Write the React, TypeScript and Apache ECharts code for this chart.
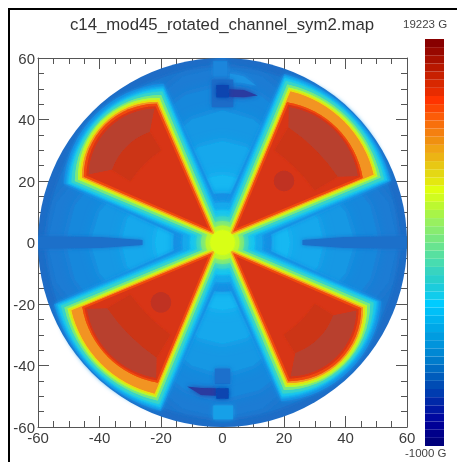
import React, { useEffect, useRef } from "react";
import * as echarts from "echarts";

const titleText = "c14_mod45_rotated_channel_sym2.map";
const maxLabel = "19223 G";
const minLabel = "-1000 G";
const axisTicks = [-60, 60];

// colour scale, lowest band first
const scaleColors = [
  "#00007c", "#00008a", "#000096", "#0008a0", "#0018a4", "#0028a8", "#003cb0", "#004cb4", "#005cbc", "#006cc4",
  "#007ccc", "#0088d4", "#0094dc", "#009ce0", "#00a8e8", "#00b4f0", "#00c0f8", "#00ccff", "#10ccec", "#1cccdc",
  "#28d0cc", "#38d4c0", "#48dcb0", "#58e0a0", "#68e490", "#78e880", "#88ec70", "#98f060", "#a8f448", "#bcf830",
  "#d0fc20", "#e0ff10", "#e4e810", "#e4d814", "#e8c814", "#ecb414", "#f0a414", "#f09010", "#f48010", "#f8700c",
  "#fc5c08", "#fc4804", "#ff3400", "#e82c00", "#d82800", "#c82000", "#b81800", "#a81000", "#980800", "#880000",
];

// field level colours of the contours, outermost first
const contourColors = ["#1690e4", "#14a8ec", "#14c4f0", "#38d4c8", "#78e880", "#b8f830", "#e8e010", "#f29420", "#f04808", "#d83418"];
const contourSoftness = [5, 3.5, 2.5, 2, 1.5, 1, 1, 1, 1, 1];
// each row: tip, corner a, corner b, arc radius (mm, in the wedge's own quadrant)
const smallWedgeContours = [
  [-7.8, 51.6, 19.2, 35],
  [-5.2, 50.8, 19.3, 34.4],
  [-3.3, 50.1, 19.3, 33.4],
  [-1.9, 49.1, 19.6, 30.7],
  [-0.5, 48, 20, 28.3],
  [0.9, 47, 20.5, 26],
  [1.7, 46.4, 20.8, 25.6],
  [2.6, 45.7, 21.1, 24.4],
  [3.5, 45.1, 21.4, 23.6],
  [4.7, 44.2, 21.8, 22.5],
];
const bigWedgeContours = [
  [-7.8, 54.8, 20.1, 49],
  [-5.2, 54.2, 20.2, 48],
  [-3.3, 53.5, 20.3, 46.3],
  [-1.9, 52.5, 20.6, 42.5],
  [-0.5, 51.4, 21.1, 40],
  [0.9, 50.4, 21.5, 37.7],
  [1.7, 49.8, 21.8, 37.8],
  [2.6, 49.1, 22.1, 36.5],
  [3.5, 45.6, 21, 30],
  [4.7, 44.8, 21.4, 28.6],
];
const centreRadii = [16, 13, 10.5, 8.5, 7, 5.5];
const hubRadius = 4;
const hubColor = "#d8ff14";

// shell bands inside the wedges: outer a, outer b, inner a, inner b, outer radius, inner radius
const smallOuterShell = [43.5, 22.2, 36, 23.7, 22, 20];
const bigOuterShell = [44, 21.6, 37.5, 21.5, 27, 60];
const smallInnerShell = [36, 23.7, 30, 20, 20, 36];
const bigInnerShell = [37.5, 21.5, 30, 17, 60, 60];

// gap field, written along +x; colour and outline for each band
const gapColors = ["#1a7cd4", "#1688dc", "#1498e4", "#12a8ec", "#12b8f2"];
const gapOutlines = [
  [[2, 0], [44, 25], [54, 13], [57, 0], [54, -13], [44, -25]],
  [[2, 0], [40, 22], [48, 12], [51, 0], [48, -12], [40, -22]],
  [[2, 0], [33, 18], [40, 10], [43, 0], [40, -10], [33, -18]],
  [[2, 0], [25, 14], [31, 8], [33, 0], [31, -8], [25, -14]],
  [[2, 0], [17, 9], [21, 5], [22, 0], [21, -5], [17, -9]],
];
const axisStrip = [[26, 0.8], [40, 1.8], [60, 2], [60, -2], [40, -1.8], [26, -0.8]];
const topSpots = [
  { color: "#1c94e4", pts: [[2.4, 55], [7, 54], [11, 51], [6, 52], [2.4, 52]] },
  { color: "#1a86dc", pts: [[-3, 59], [1.5, 59], [1.5, 54], [-3, 54]] },
  { color: "#1a6cc8", pts: [[-3.5, 53], [3.5, 53], [3.5, 44], [-3.5, 44]] },
  { color: "#2a3aa0", pts: [[2, 49.8], [7, 49.6], [11.5, 47.8], [7, 47.2], [2, 47.4]] },
  { color: "#0844b0", pts: [[-2, 51.2], [2, 51.2], [2, 47.2], [-2, 47.2]] },
];
const bottomSpots = [
  { color: "#18a0e8", pts: [[-3, -53], [3.4, -53], [3.4, -57.5], [-3, -57.5]] },
  { color: "#1a70cc", pts: [[-2.5, -41], [2.5, -41], [2.5, -46], [-2.5, -46]] },
  { color: "#2a3aa0", pts: [[-11.5, -46.8], [-7, -47.3], [-2, -47.4], [-2, -49.8], [-7, -49.6]] },
  { color: "#0844b0", pts: [[-2, -47.4], [2, -47.4], [2, -50.8], [-2, -50.8]] },
];
const coreSpots = [[20, 20, 3.3], [-20, -19.5, 3.3]];
const diskRadii = [60, 57];
const diskColors = ["#1e6cc6", "#1b76ce"];

type Layer = {
  color: string;
  soft?: number;
  pts?: number[][];
  circle?: number[];
  wedge?: { row: number[]; sx: number; sy: number };
  ring?: { row: number[]; sx: number; sy: number };
};

const layers: Layer[] = [];
diskRadii.forEach((r, i) => layers.push({ color: diskColors[i], circle: [0, 0, r], soft: i ? 5 : 0 }));
gapOutlines.forEach((pts, i) => {
  const color = gapColors[i];
  layers.push({ color, soft: 12, pts });
  layers.push({ color, soft: 12, pts: pts.map(([x, y]) => [-x, y]) });
  layers.push({ color, soft: 12, pts: pts.map(([x, y]) => [y, x]) });
  layers.push({ color, soft: 12, pts: pts.map(([x, y]) => [y, -x]) });
});
layers.push({ color: "#1a70ca", pts: axisStrip, soft: 4 });
layers.push({ color: "#1a70ca", pts: axisStrip.map(([x, y]) => [-x, y]), soft: 4 });
topSpots.concat(bottomSpots).forEach((s) => layers.push({ ...s, soft: 5 }));
contourColors.forEach((color, i) => {
  const soft = contourSoftness[i];
  if (centreRadii[i]) layers.push({ color, circle: [0, 0, centreRadii[i]], soft: soft + 3 });
  layers.push({ color, soft, wedge: { row: bigWedgeContours[i], sx: 1, sy: 1 } });
  layers.push({ color, soft, wedge: { row: bigWedgeContours[i], sx: -1, sy: -1 } });
  layers.push({ color, soft, wedge: { row: smallWedgeContours[i], sx: -1, sy: 1 } });
  layers.push({ color, soft, wedge: { row: smallWedgeContours[i], sx: 1, sy: -1 } });
});
const shellColor = "#b8402f";
const stripColor = "#cc3419";
layers.push({ color: stripColor, soft: 2, ring: { row: bigInnerShell, sx: 1, sy: 1 } });
layers.push({ color: stripColor, soft: 2, ring: { row: bigInnerShell, sx: -1, sy: -1 } });
layers.push({ color: stripColor, soft: 2, ring: { row: smallInnerShell, sx: -1, sy: 1 } });
layers.push({ color: stripColor, soft: 2, ring: { row: smallInnerShell, sx: 1, sy: -1 } });
layers.push({ color: shellColor, soft: 1, ring: { row: bigOuterShell, sx: 1, sy: 1 } });
layers.push({ color: shellColor, soft: 1, ring: { row: bigOuterShell, sx: -1, sy: -1 } });
layers.push({ color: shellColor, soft: 1, ring: { row: smallOuterShell, sx: -1, sy: 1 } });
layers.push({ color: shellColor, soft: 1, ring: { row: smallOuterShell, sx: 1, sy: -1 } });
coreSpots.forEach((c) => layers.push({ color: "#c03222", circle: c, soft: 1 }));
layers.push({ color: hubColor, circle: [0, 0, hubRadius], soft: 3 });

const labelStyle = { fontFamily: "Liberation Sans", color: "#3c3c3c" };

export default function App() {
  const ref = useRef<HTMLDivElement>(null);
  useEffect(() => {
    document.body.style.margin = "0";
    document.body.style.background = "#fff";
    const chart = echarts.init(ref.current!, null, { renderer: "svg" });
    const axisBase = (position: string, showLabel: boolean) => ({
      type: "value",
      position,
      min: axisTicks[0],
      max: axisTicks[1],
      interval: 20,
      splitLine: { show: false },
      axisLine: { show: true, onZero: false, lineStyle: { color: "#555", width: 1 } },
      axisTick: { show: true, inside: true, length: 11, lineStyle: { color: "#555" } },
      minorTick: { show: true, splitNumber: 4, length: 6, lineStyle: { color: "#555" } },
      axisLabel: { show: showLabel, fontSize: 15, margin: 3, showMinLabel: true, showMaxLabel: true, hideOverlap: false, ...labelStyle },
    });
    chart.setOption({
      animation: false,
      backgroundColor: "#fff",
      title: {
        text: titleText,
        left: 217,
        top: 11,
        textAlign: "center",
        textStyle: { fontFamily: "Liberation Sans", fontSize: 16.8, fontWeight: "normal", color: "#333" },
      },
      graphic: [
        { type: "rect", shape: { x: 8, y: 8, width: 2, height: 454 }, style: { fill: "#000" } },
        { type: "rect", shape: { x: 8, y: 8, width: 449, height: 2 }, style: { fill: "#000" } },
        { type: "text", x: 403, y: 18, style: { text: maxLabel, fill: "#444", font: "11.5px Liberation Sans" } },
        { type: "text", x: 405, y: 447, style: { text: minLabel, fill: "#444", font: "11.5px Liberation Sans" } },
      ],
      grid: [
        { left: 38, top: 58, width: 369, height: 369 },
        { left: 425, top: 39, width: 19, height: 407 },
      ],
      xAxis: [
        axisBase("bottom", true),
        axisBase("top", false),
        { gridIndex: 1, type: "value", min: 0, max: 1, show: false },
      ],
      yAxis: [
        axisBase("left", true),
        axisBase("right", false),
        { gridIndex: 1, type: "category", data: scaleColors.map((_, i) => i), show: false },
      ],
      series: [
        {
          type: "custom",
          xAxisIndex: 0,
          yAxisIndex: 0,
          coordinateSystem: "cartesian2d",
          clip: true,
          encode: { x: 0, y: 1 },
          data: layers.map(() => [0, 0]),
          renderItem: (params: any, api: any) => {
            const layer = layers[params.dataIndex];
            const style: any = { fill: layer.color };
            if (layer.soft) {
              style.shadowBlur = layer.soft;
              style.shadowColor = layer.color;
            }
            const toPx = (x: number, y: number) => {
              const c = api.coord([x, y]);
              return `${c[0].toFixed(2)} ${c[1].toFixed(2)}`;
            };
            const unit = (r: number) => api.size([r, 0])[0].toFixed(2);
            if (layer.circle) {
              const [cx, cy, r] = layer.circle;
              const c = api.coord([cx, cy]);
              return { type: "circle", shape: { cx: c[0], cy: c[1], r: api.size([r, 0])[0] }, style };
            }
            if (layer.wedge) {
              const { row, sx, sy } = layer.wedge;
              const [t, a, b, radius] = row;
              const r = unit(radius);
              const sweep = sx * sy > 0 ? 0 : 1;
              const d = `M${toPx(t * sx, t * sy)} L${toPx(a * sx, b * sy)} A${r} ${r} 0 0 ${sweep} ${toPx(b * sx, a * sy)} Z`;
              return { type: "path", shape: { pathData: d }, style };
            }
            if (layer.ring) {
              const { row, sx, sy } = layer.ring;
              const [oa, ob, ia, ib, rOut, rIn] = row;
              const ro = unit(rOut);
              const ri = unit(rIn);
              const sweep = sx * sy > 0 ? 0 : 1;
              const d = `M${toPx(oa * sx, ob * sy)} A${ro} ${ro} 0 0 ${sweep} ${toPx(ob * sx, oa * sy)} L${toPx(ib * sx, ia * sy)} A${ri} ${ri} 0 0 ${1 - sweep} ${toPx(ia * sx, ib * sy)} Z`;
              return { type: "path", shape: { pathData: d }, style };
            }
            return { type: "polygon", shape: { points: layer.pts!.map((p) => api.coord(p)) }, style };
          },
        },
        {
          type: "bar",
          xAxisIndex: 2,
          yAxisIndex: 2,
          barWidth: "100%",
          silent: true,
          data: scaleColors.map((color) => ({ value: 1, itemStyle: { color } })),
        },
      ],
    });
    return () => chart.dispose();
  }, []);
  return <div ref={ref} style={{ width: 457, height: 462, filter: "blur(0.5px)" }} />;
}
